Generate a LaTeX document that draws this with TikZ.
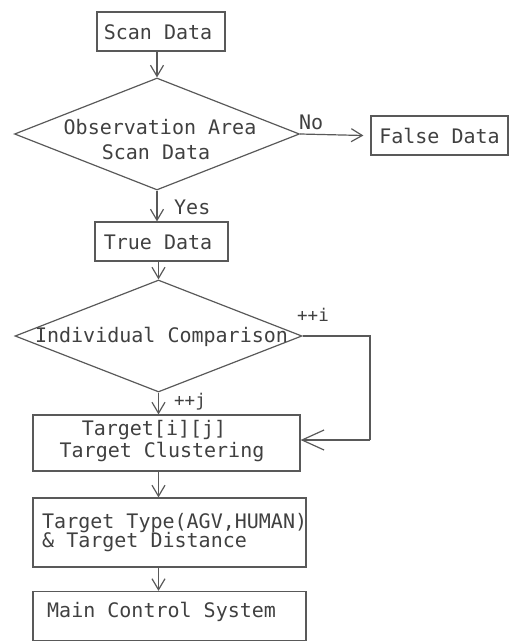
\documentclass[tikz,border=0pt]{standalone}
\usepackage{fontspec}
\newfontfamily\hf{DejaVu Sans Mono}
\usetikzlibrary{shapes.geometric,arrows.meta}
\tikzset{
  ln/.style={draw=black!65, line width=1.2pt},
  txt/.style={text=black!75, font=\hf\fontsize{20}{22}\selectfont, inner sep=0pt},
  sm/.style={text=black!75, font=\hf\fontsize{17.5}{19}\selectfont, inner sep=0pt},
  boxn/.style={ln, rectangle, inner sep=0pt},
  dia/.style={ln, diamond, inner sep=0pt},
  arr/.style={ln, -{Straight Barb[length=11pt,width=13pt,line width=1.2pt]}},
  bigarr/.style={ln, -{Straight Barb[length=22pt,width=20pt,line width=1.2pt]}}
}
\begin{document}
\begin{tikzpicture}[x=1pt,y=-1pt]
\useasboundingbox (0,0) rectangle (514,642);
% boxes
\node[boxn, minimum width=128pt, minimum height=39pt] (scan) at (161,31.5) {};
\node[txt] (scant) at (158,32) {Scan Data};
\node[dia, minimum width=285pt, minimum height=112pt] (d1) at (157,134) {};
\node[txt] (d1a) at (160,127) {Observation Area};
\node[txt] (d1b) at (156,152) {Scan Data};
\node[boxn, minimum width=137pt, minimum height=39pt] (false) at (439.5,135.5) {};
\node[txt] (falset) at (439.5,136) {False Data};
\node[boxn, minimum width=133pt, minimum height=39pt] (true) at (161.5,241.5) {};
\node[txt] (truet) at (158,242) {True Data};
\node[dia, minimum width=287pt, minimum height=112pt] (d2) at (158.5,336) {};
\node[txt] (d2t) at (161.5,337) {Individual Comparison};
\node[boxn, minimum width=267pt, minimum height=56pt] (tgt) at (166.5,443) {};
\node[txt] (tgta) at (154,430) {Target[i][j]};
\node[txt] (tgtb) at (162,452) {Target Clustering};
\node[boxn, minimum width=273pt, minimum height=69pt] (typ) at (169.5,532.5) {};
\node[txt, anchor=west] (typa) at (42,523) {Target Type(AGV,HUMAN)};
\node[txt, anchor=west] (typb) at (42,542) {\& Target Distance};
\node[boxn, minimum width=273pt, minimum height=49pt] (mcs) at (169.5,616) {};
\node[txt, anchor=west] (mcst) at (47,612) {Main Control System};
% labels
\node[txt, anchor=west] (no) at (299,122) {No};
\node[txt, anchor=west] (yes) at (174,207) {Yes};
\node[sm, anchor=west] (pi) at (297,315) {++i};
\node[sm, anchor=west] (pj) at (174,402) {++j};
\coordinate (c1) at (370,336);
\coordinate (c2) at (370,440);
% connectors
\draw[arr] (scan.south -| d1.north) -- (d1.north);
\draw[arr] (d1.east) -- ([xshift=-7pt]false.west);
\draw[arr] (d1.south) -- (d1.south |- true.north);
\draw[arr] (true.south -| d2.north) -- (d2.north);
\draw[arr] (d2.south) -- (d2.south |- tgt.north);
\draw[ln] (d2.east) -- (c1) -- (c2);
\draw[bigarr] (c2) -- (c2 -| tgt.east);
\draw[arr] (tgt.south -| d2.south) -- (d2.south |- typ.north);
\draw[arr] (typ.south -| d2.south) -- (d2.south |- mcs.north);
\end{tikzpicture}
\end{document}
